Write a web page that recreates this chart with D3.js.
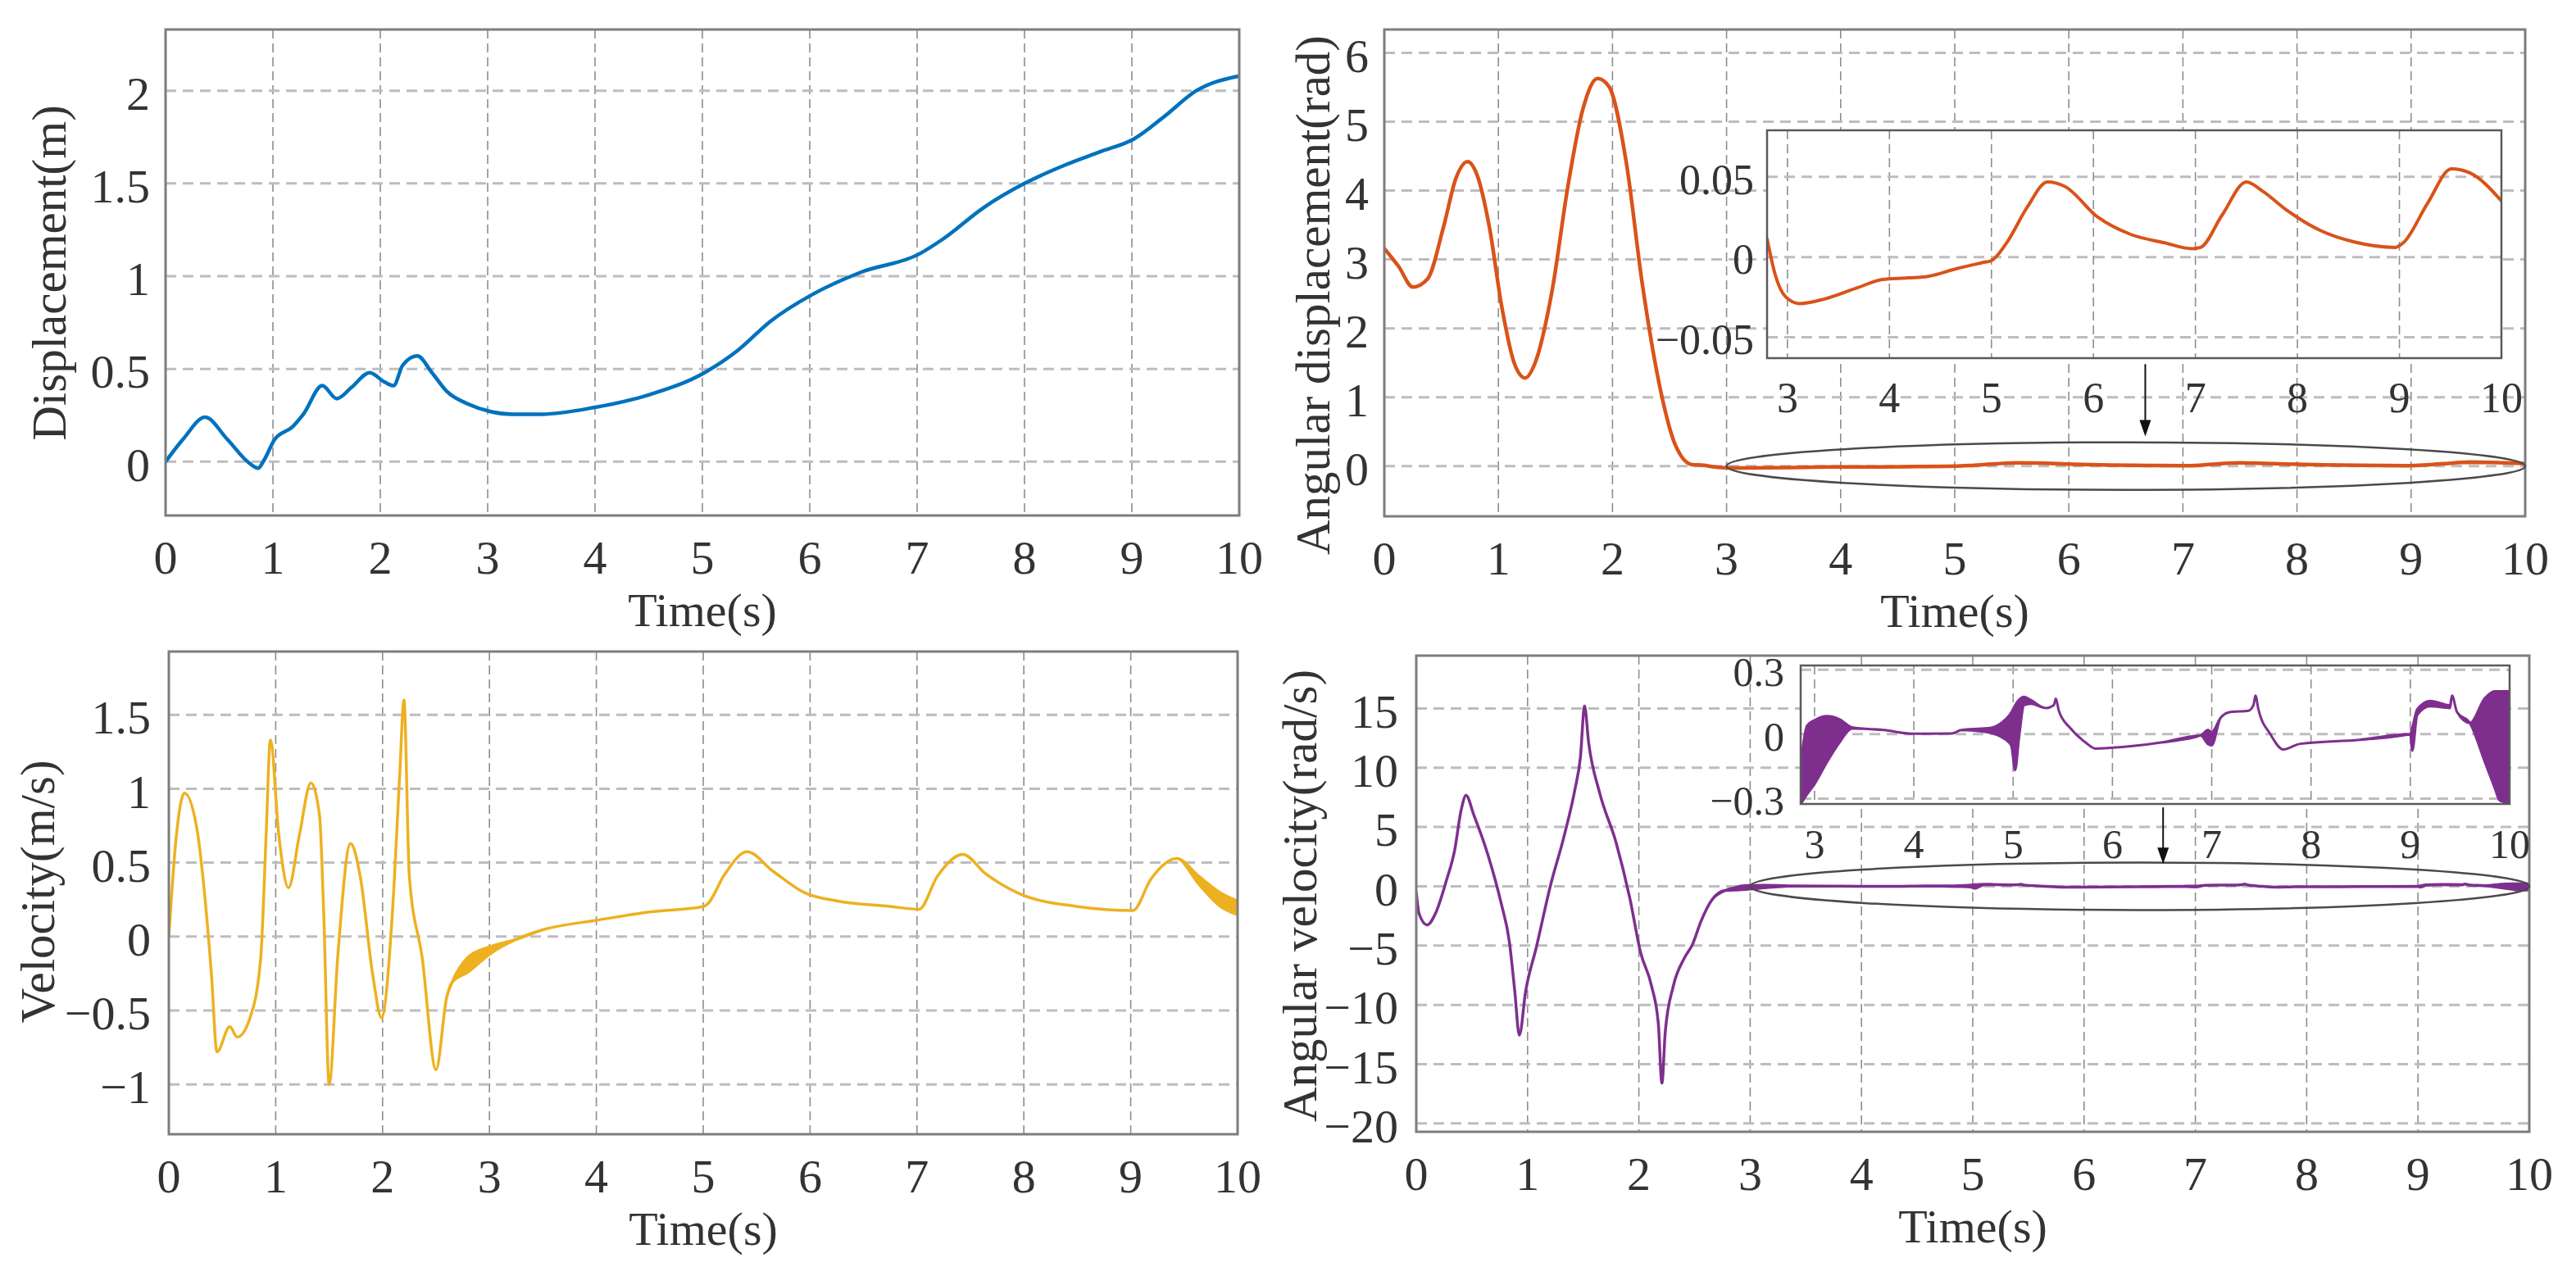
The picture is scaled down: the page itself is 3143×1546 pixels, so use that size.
<!DOCTYPE html>
<html>
<head>
<meta charset="utf-8">
<script src="https://cdn.jsdelivr.net/npm/d3@7/dist/d3.min.js"></script>
<style>
  html, body { margin: 0; padding: 0; background: #fff; }
  svg { display: block; }
</style>
</head>
<body>
<svg id="fig" width="3143" height="1546"></svg>
<script>
const FONT   = "'Liberation Serif', 'Times New Roman', serif";
const TEXT   = '#333333';
const BOX    = '#7d7d7d';
const GRID_H = '#bdbdbd';
const GRID_V = '#8e8e8e';
const BLUE   = '#0072BD';
const ORANGE = '#D95319';
const YELLOW = '#EDB120';
const PURPLE = '#7E2F8E';

// ---- tick values ----
const TIME_TICKS       = [0, 1, 2, 3, 4, 5, 6, 7, 8, 9, 10];
const INSET_TIME_TICKS = [3, 4, 5, 6, 7, 8, 9, 10];
const DISP_TICKS       = [0, 0.5, 1, 1.5, 2];
const ANG_DISP_TICKS   = [0, 1, 2, 3, 4, 5, 6];
const VEL_TICKS        = [-1, -0.5, 0, 0.5, 1, 1.5];
const ANG_VEL_TICKS    = [-20, -15, -10, -5, 0, 5, 10, 15];
const ANG_DISP_INSET_TICKS = [-0.05, 0, 0.05];
const ANG_VEL_INSET_TICKS  = [-0.3, 0, 0.3];

// ---- series: [time, value] or [time, low, high] where the trace chatters ----
const DISP = [
  [0, 0], [0.164, 0.122], [0.368, 0.24], [0.573, 0.122], [0.777, -0.006], [0.862, -0.035],
  [0.913, 0.004], [1.016, 0.12], [1.186, 0.19], [1.288, 0.26], [1.459, 0.41], [1.595, 0.34],
  [1.731, 0.40], [1.902, 0.48], [2.038, 0.43], [2.123, 0.41], [2.209, 0.52], [2.345, 0.57],
  [2.481, 0.48], [2.618, 0.38], [2.822, 0.31], [3.027, 0.27], [3.231, 0.256], [3.504, 0.256],
  [4.0, 0.293], [4.5, 0.36], [5.02, 0.48], [5.33, 0.6], [5.63, 0.755], [6.02, 0.9],
  [6.47, 1.02], [7.02, 1.12], [7.24, 1.2], [7.62, 1.37], [8.0, 1.5], [8.38, 1.6],
  [8.7, 1.67], [9.02, 1.74], [9.3, 1.86], [9.6, 2.0], [10, 2.08]
];

const ANG_DISP_EARLY = [
  [0, 3.16], [0.125, 2.9], [0.25, 2.6], [0.38, 2.72], [0.52, 3.48], [0.63, 4.19], [0.73, 4.42],
  [0.81, 4.24], [0.92, 3.48], [1.03, 2.31], [1.14, 1.49], [1.235, 1.28], [1.32, 1.49],
  [1.47, 2.54], [1.61, 4.07], [1.74, 5.18], [1.87, 5.63], [1.97, 5.51], [2.12, 4.42],
  [2.26, 2.66], [2.41, 1.19], [2.55, 0.31], [2.70, 0.02]
];
const ANG_DISP_LATE = [
  [2.80, 0.0114], [2.88, -0.011], [2.98, -0.0246], [3.12, -0.029], [3.37, -0.026], [3.69, -0.019],
  [3.93, -0.014], [4.18, -0.013], [4.38, -0.012], [4.66, -0.0072], [4.91, -0.0035], [5.0, -0.0022],
  [5.15, 0.009], [5.35, 0.031], [5.55, 0.0468], [5.72, 0.044], [6.04, 0.025], [6.37, 0.014],
  [6.69, 0.009], [6.97, 0.0052], [7.05, 0.006], [7.26, 0.026], [7.50, 0.0468], [7.66, 0.041],
  [7.90, 0.029], [8.23, 0.0164], [8.55, 0.0095], [8.96, 0.006], [9.04, 0.009], [9.28, 0.034],
  [9.51, 0.055], [9.69, 0.0525], [10.0, 0.035]
];

const VEL = [
  [0, 0], [0.07, 0.68], [0.146, 0.97], [0.26, 0.74], [0.337, 0.27], [0.40, -0.27], [0.45, -0.78],
  [0.57, -0.61], [0.64, -0.68], [0.76, -0.55], [0.86, -0.14], [0.91, 0.68], [0.95, 1.33],
  [1.03, 0.68], [1.12, 0.33], [1.22, 0.68], [1.33, 1.04], [1.41, 0.82], [1.45, 0.14], [1.50, -1.0],
  [1.58, -0.14], [1.70, 0.63], [1.79, 0.41], [1.91, -0.27], [1.99, -0.55], [2.09, 0.14],
  [2.16, 1.09], [2.20, 1.6], [2.25, 0.41], [2.37, -0.14], [2.50, -0.9], [2.60, -0.41],
  [2.65, -0.31], [2.80, -0.24, -0.14], [3.0, -0.12, -0.07], [3.25, -0.019], [3.5, 0.046],
  [4.0, 0.11], [4.5, 0.167], [5.0, 0.203], [5.04, 0.22], [5.2, 0.42], [5.41, 0.574],
  [5.65, 0.444], [5.95, 0.296], [6.25, 0.241], [6.745, 0.204], [7.02, 0.185], [7.19, 0.407],
  [7.43, 0.556], [7.64, 0.426], [7.94, 0.296], [8.49, 0.204], [9.02, 0.176], [9.19, 0.39],
  [9.43, 0.528], [9.64, 0.352, 0.407], [9.84, 0.204, 0.296], [10, 0.148, 0.241]
];

const ANG_VEL_EARLY = [
  [0, -0.5], [0.025, -2.3], [0.098, -3.26], [0.172, -2.3], [0.27, 0.47], [0.344, 3.0],
  [0.405, 6.5], [0.447, 7.67], [0.516, 6.05], [0.639, 2.8], [0.762, -1.4], [0.836, -4.65],
  [0.885, -8.84], [0.926, -12.56], [0.983, -8.84], [1.08, -5.1], [1.204, 0], [1.327, 4.19],
  [1.425, 8.14], [1.475, 10.9], [1.512, 15.2], [1.549, 12.1], [1.647, 7.9], [1.795, 3.7],
  [1.917, -0.93], [2.016, -5.6], [2.114, -8.4], [2.175, -11.6], [2.207, -16.6], [2.237, -12.3],
  [2.31, -8.4], [2.409, -6.05], [2.482, -4.9], [2.556, -3.0], [2.655, -1.16], [2.778, -0.35]
];
const ANG_VEL_LATE = [
  [2.865, -0.322, -0.116], [2.925, -0.28, 0.04], [3.0, -0.232, 0.065], [3.126, -0.129, 0.084],
  [3.251, -0.039, 0.07], [3.377, 0.026, 0.032], [3.7, 0.019], [3.979, 0.002], [4.38, 0.003],
  [4.48, 0.019], [4.68, 0.013, 0.026], [4.78, 0.005, 0.03], [4.88, -0.013, 0.052],
  [4.98, -0.052, 0.1], [5.02, -0.167, 0.135], [5.06, -0.013, 0.16], [5.11, 0.135, 0.174],
  [5.18, 0.142, 0.158], [5.33, 0.122], [5.41, 0.135], [5.43, 0.165], [5.46, 0.109],
  [5.58, 0.026], [5.73, -0.039], [5.83, -0.067], [5.98, -0.064], [6.49, -0.039],
  [6.89, -0.006], [6.96, -0.045, 0.019], [7.0, -0.052, 0.01], [7.09, 0.077], [7.19, 0.103],
  [7.37, 0.109], [7.42, 0.135], [7.44, 0.18], [7.47, 0.116], [7.59, 0.0], [7.72, -0.071],
  [7.89, -0.045], [8.49, -0.026], [9.0, 0.0], [9.02, -0.077, 0.03], [9.07, 0.09, 0.116],
  [9.2, 0.13, 0.155], [9.40, 0.122, 0.135], [9.42, 0.18], [9.47, 0.103], [9.60, 0.052],
  [9.75, -0.129, 0.167], [9.85, -0.25, 0.2], [9.90, -0.309, 0.2], [10.0, -0.322, 0.2]
];

// zoom marks: [t start, t end, half height] and arrows: [t, from value, to value]
const ANG_DISP_ZOOM  = [3, 10, 0.345];
const ANG_DISP_ARROW = [6.67, 1.48, 0.43];
const ANG_VEL_ZOOM   = [3, 10, 2.0];
const ANG_VEL_ARROW  = [6.71, 6.65, 1.88];

const svg = d3.select('#fig');
const defs = svg.append('defs');

const toBand = rows => rows.map(r => ({ t: r[0], lo: r[1], hi: r.length > 2 ? r[2] : r[1] }));
const fmt = v => String(v).replace('-', '\u2212');

// draws a framed axes region; returns scales and content group
function axes(cfg) {
  const b = cfg.box;
  const x = d3.scaleLinear().domain(cfg.xDomain).range([b.l, b.r]);
  const y = d3.scaleLinear().domain(cfg.yDomain).range([b.b, b.t]);
  const g = svg.append('g');

  if (cfg.inset) {
    g.append('rect').attr('x', b.l).attr('y', b.t)
      .attr('width', b.r - b.l).attr('height', b.b - b.t).attr('fill', '#fff');
  }

  defs.append('clipPath').attr('id', cfg.id)
    .append('rect').attr('x', b.l).attr('y', b.t)
    .attr('width', b.r - b.l).attr('height', b.b - b.t);

  // grid
  g.append('g').selectAll('line').data(cfg.xTicks).join('line')
    .attr('x1', d => x(d)).attr('x2', d => x(d))
    .attr('y1', b.t).attr('y2', b.b)
    .attr('stroke', GRID_V).attr('stroke-width', 1.6)
    .attr('stroke-dasharray', '11,6');
  g.append('g').selectAll('line').data(cfg.yTicks).join('line')
    .attr('x1', b.l).attr('x2', b.r)
    .attr('y1', d => y(d)).attr('y2', d => y(d))
    .attr('stroke', GRID_H).attr('stroke-width', 3)
    .attr('stroke-dasharray', '13,8');

  const content = g.append('g').attr('clip-path', `url(#${cfg.id})`);

  g.append('rect').attr('x', b.l).attr('y', b.t)
    .attr('width', b.r - b.l).attr('height', b.b - b.t)
    .attr('fill', 'none').attr('stroke', cfg.inset ? '#5a5a5a' : BOX)
    .attr('stroke-width', cfg.inset ? 2.5 : 3);

  // tick labels
  g.append('g').selectAll('text').data(cfg.xTicks).join('text')
    .attr('x', d => x(d)).attr('y', b.b + cfg.xLabelGap)
    .attr('text-anchor', 'middle')
    .style('font-family', FONT).style('font-size', cfg.fontSize + 'px').style('fill', TEXT)
    .text(fmt);
  g.append('g').selectAll('text').data(cfg.yTicks).join('text')
    .attr('x', b.l - cfg.yLabelGap).attr('y', d => y(d)).attr('dy', '0.4em')
    .attr('text-anchor', 'end')
    .style('font-family', FONT).style('font-size', cfg.fontSize + 'px').style('fill', TEXT)
    .text(fmt);

  if (cfg.xTitle) {
    g.append('text')
      .attr('x', (b.l + b.r) / 2).attr('y', b.b + 135)
      .attr('text-anchor', 'middle')
      .style('font-family', FONT).style('font-size', '58px').style('fill', TEXT)
      .text(cfg.xTitle);
  }
  if (cfg.yTitle) {
    g.append('text')
      .attr('transform', `translate(${cfg.yTitlePos[0]},${cfg.yTitlePos[1]}) rotate(-90)`)
      .attr('text-anchor', 'middle')
      .style('font-family', FONT).style('font-size', '59px').style('fill', TEXT)
      .text(cfg.yTitle);
  }
  return { x, y, g, content };
}

function trace(ax, rows, color, width) {
  const area = d3.area()
    .x(d => ax.x(d.t)).y0(d => ax.y(d.lo)).y1(d => ax.y(d.hi))
    .curve(d3.curveMonotoneX);
  ax.content.append('path')
    .datum(toBand(rows))
    .attr('d', area)
    .attr('fill', color).attr('stroke', color)
    .attr('stroke-width', width)
    .attr('stroke-linejoin', 'round');
}

function zoomMark(ax, zoom) {
  const cx = (zoom[0] + zoom[1]) / 2;
  ax.g.append('ellipse')
    .attr('cx', ax.x(cx)).attr('cy', ax.y(0))
    .attr('rx', ax.x(zoom[1]) - ax.x(cx))
    .attr('ry', ax.y(0) - ax.y(zoom[2]))
    .attr('fill', 'none').attr('stroke', '#4a4a4a').attr('stroke-width', 2.5);
}

function arrow(ax, a) {
  const px = ax.x(a[0]), y0 = ax.y(a[1]), y1 = ax.y(a[2]);
  ax.g.append('line')
    .attr('x1', px).attr('x2', px).attr('y1', y0).attr('y2', y1 - 16)
    .attr('stroke', '#111').attr('stroke-width', 2);
  ax.g.append('path')
    .attr('d', `M${px - 7},${y1 - 20} L${px + 7},${y1 - 20} L${px},${y1} Z`)
    .attr('fill', '#111');
}

const MAIN = { xDomain: [0, 10], xTicks: TIME_TICKS, fontSize: 58, xLabelGap: 71, xTitle: 'Time(s)' };
const INSET = { inset: true, xTicks: INSET_TIME_TICKS, xLabelGap: 66 };

// --- Displacement ---
const a1 = axes(Object.assign({}, MAIN, {
  id: 'c1', box: { l: 202, r: 1512, t: 36, b: 629 },
  yDomain: [-0.29, 2.33], yTicks: DISP_TICKS, yLabelGap: 19,
  yTitle: 'Displacement(m)', yTitlePos: [80, 333]
}));
trace(a1, DISP, BLUE, 4.5);

// --- Angular displacement ---
const a2 = axes(Object.assign({}, MAIN, {
  id: 'c2', box: { l: 1689, r: 3081, t: 36, b: 630 },
  yDomain: [-0.73, 6.34], yTicks: ANG_DISP_TICKS, yLabelGap: 19,
  yTitle: 'Angular displacement(rad)', yTitlePos: [1622, 360]
}));
trace(a2, ANG_DISP_EARLY.concat(ANG_DISP_LATE), ORANGE, 4.5);
zoomMark(a2, ANG_DISP_ZOOM);
arrow(a2, ANG_DISP_ARROW);
const i2 = axes(Object.assign({}, INSET, {
  id: 'c2i', box: { l: 2156, r: 3052, t: 159, b: 437 },
  xDomain: [2.8, 10], yDomain: [-0.063, 0.079], yTicks: ANG_DISP_INSET_TICKS,
  fontSize: 52, yLabelGap: 16
}));
trace(i2, ANG_DISP_LATE, ORANGE, 4);

// --- Velocity ---
const a3 = axes(Object.assign({}, MAIN, {
  id: 'c3', box: { l: 206, r: 1510, t: 795, b: 1384 },
  yDomain: [-1.337, 1.928], yTicks: VEL_TICKS, yLabelGap: 22,
  yTitle: 'Velocity(m/s)', yTitlePos: [66, 1088]
}));
trace(a3, VEL, YELLOW, 3.5);

// --- Angular velocity ---
const a4 = axes(Object.assign({}, MAIN, {
  id: 'c4', box: { l: 1728, r: 3086, t: 800, b: 1381 },
  yDomain: [-20.7, 19.45], yTicks: ANG_VEL_TICKS, yLabelGap: 22,
  yTitle: 'Angular velocity(rad/s)', yTitlePos: [1606, 1093]
}));
trace(a4, ANG_VEL_EARLY.concat(ANG_VEL_LATE), PURPLE, 3.5);
zoomMark(a4, ANG_VEL_ZOOM);
arrow(a4, ANG_VEL_ARROW);
const i4 = axes(Object.assign({}, INSET, {
  id: 'c4i', box: { l: 2197, r: 3062, t: 812, b: 981 },
  xDomain: [2.86, 10], yDomain: [-0.325, 0.32], yTicks: ANG_VEL_INSET_TICKS,
  fontSize: 50, yLabelGap: 20
}));
trace(i4, ANG_VEL_LATE, PURPLE, 3);
</script>
</body>
</html>
